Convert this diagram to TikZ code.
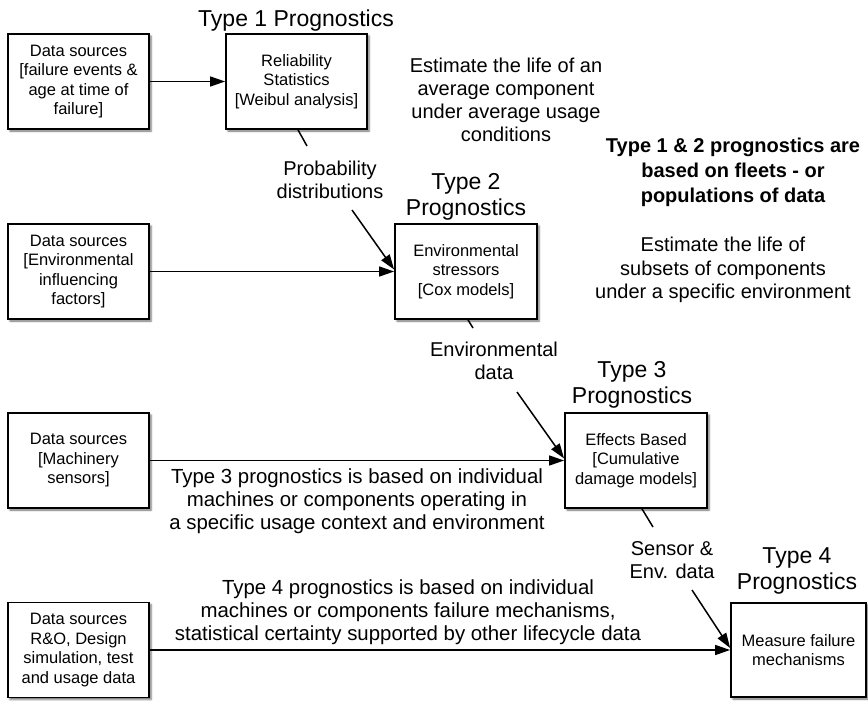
\documentclass[tikz,border=0pt]{standalone}
\usepackage{fontspec}
\setmainfont{Liberation Sans}
\usetikzlibrary{arrows.meta,shadows.blur}

\tikzset{
  procbox/.style={draw, line width=1.8pt, fill=white, inner sep=0pt, align=center,
    minimum width=141pt, minimum height=95pt,
    font=\fontsize{16.5}{19.5}\selectfont,
    blur shadow={shadow xshift=2pt, shadow yshift=-2pt,
      shadow blur radius=2pt, shadow opacity=60}},
  typelabel/.style={align=center, inner sep=0pt, font=\fontsize{23}{26}\selectfont},
  note/.style={align=center, inner sep=0pt, font=\fontsize{20}{23.2}\selectfont},
  widenote/.style={align=center, inner sep=0pt, font=\fontsize{20.4}{23}\selectfont},
  boldnote/.style={align=center, inner sep=0pt, font=\bfseries\fontsize{20}{25}\selectfont},
  flow/.style={line width=1.5pt, -{Triangle[length=15pt,width=10pt]}},
  tick/.style={line width=1.5pt},
}

\begin{document}
\begin{tikzpicture}[x=1pt, y=-1pt]
\useasboundingbox (0,0) rectangle (868,701);

% source boxes (left column)
\node[procbox] (ds1) at (78.5,81.5) {Data sources\\{[}failure events \&\\age at time of\\failure{]}};
\node[procbox] (ds2) at (78.5,271.5) {Data sources\\{[}Environmental\\influencing\\factors{]}};
\node[procbox] (ds3) at (78.5,460.5) {Data sources\\{[}Machinery\\sensors{]}};
\node[procbox] (ds4) at (78.5,650) {Data sources\\R\&O, Design\\simulation, test\\and usage data};

% prognostic stages
\node[procbox] (rel) at (296.5,81.5) {Reliability\\Statistics\\{[}Weibul analysis{]}};
\node[procbox, minimum width=142pt] (env) at (466,271.5) {Environmental\\stressors\\{[}Cox models{]}};
\node[procbox, minimum width=142pt] (eff) at (636,460.5) {Effects Based\\{[}Cumulative\\damage models{]}};
\node[procbox, minimum width=135pt, minimum height=94pt] (meas) at (798.5,650) {Measure failure\\mechanisms};

% stage titles
\node[typelabel] (t1) at (296,21) {Type 1 Prognostics};
\node[typelabel] (t2) at (466,197) {Type 2\\Prognostics};
\node[typelabel] (t3) at (632,385) {Type 3\\Prognostics};
\node[typelabel] (t4) at (797,571) {Type 4\\Prognostics};

% descriptive notes
\node[note] (est1) at (506,100) {Estimate the life of an\\average component\\under average usage\\conditions};
\node[boldnote] (fleet) at (733,172) {Type 1 \& 2 prognostics are\\based on fleets - or\\populations of data};
\node[note] (est2) at (723,270) {Estimate the life of\\subsets of components\\under a specific environment};
\node[widenote] (ty3) at (357,501) {Type 3 prognostics is based on individual\\machines or components operating in\\a specific usage context and environment};
\node[widenote] (ty4) at (408,612) {Type 4 prognostics is based on individual\\machines or components failure mechanisms,\\statistical certainty supported by other lifecycle data};

% connector labels
\node[note] (pd) at (330,180) {Probability\\distributions};
\node[note] (envd) at (494,361) {Environmental\\data};
\node[note] (sed) at (672,560) {Sensor \&\\Env. data};

% data feeds
\draw[flow] (ds1.east) -- (rel.west);
\draw[flow] (ds2.east) -- (env.west);
\draw[flow] (ds3.east) -- (eff.west);
\draw[flow] (ds4.east) -- (meas.west);

% stage-to-stage hand-overs, broken by their labels
\coordinate (pdin) at (307,146);
\coordinate (pdout) at (352,210);
\coordinate (edin) at (473,328);
\coordinate (edout) at (517,392);
\coordinate (sdin) at (653,527);
\coordinate (sdout) at (692,590);

\draw[tick] ([xshift=1.5pt]rel.south) -- (pdin);
\draw[flow] (pdout) -- ([yshift=2pt]env.west);
\draw[tick] ([xshift=2pt]env.south) -- (edin);
\draw[flow] (edout) -- ([yshift=2pt]eff.west);
\draw[tick] ([xshift=6pt]eff.south) -- (sdin);
\draw[flow] (sdout) -- ([yshift=2pt]meas.west);
\end{tikzpicture}
\end{document}
